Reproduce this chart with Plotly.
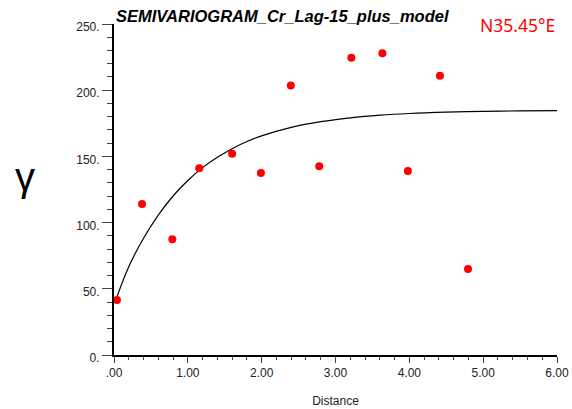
import plotly.graph_objects as go

# Experimental semivariogram points (lag distance, gamma)
lag_distance = [0.04, 0.38, 0.79, 1.155, 1.60, 1.99, 2.395, 2.78, 3.215, 3.635, 3.98, 4.415, 4.795]
gamma_values = [41.5, 114, 87.5, 141, 152, 137.5, 203.5, 142.5, 224.5, 228, 139, 211, 65]

# Fitted model curve
model_distance = [0.04, 0.2, 0.4, 0.6, 0.8, 1.0, 1.2, 1.4, 1.6, 1.8, 2.0, 2.4, 2.8, 3.2, 3.6, 4.0, 4.5, 5.0, 5.5, 6.0]
model_gamma = [44, 66.7, 88.2, 105.7, 120.1, 131.8, 141.5, 149.3, 155.8, 161.2, 165.5, 171.9, 176.2, 179.1,
               181.1, 182.4, 183.4, 184.0, 184.4, 184.6]

x_tickvals = [0, 1, 2, 3, 4, 5, 6]
x_ticktext = [".00", "1.00", "2.00", "3.00", "4.00", "5.00", "6.00"]
y_tickvals = [0, 50, 100, 150, 200, 250]
y_ticktext = ["0.", "50.", "100.", "150.", "200.", "250."]

title_text = "SEMIVARIOGRAM_Cr_Lag-15_plus_model"
direction_text = "N35.45°E"

fig = go.Figure()
fig.add_trace(go.Scatter(x=model_distance, y=model_gamma, mode="lines",
                         line=dict(color="black", width=1.2, shape="spline"),
                         showlegend=False, hoverinfo="skip"))
fig.add_trace(go.Scatter(x=lag_distance, y=gamma_values, mode="markers",
                         marker=dict(color="#ff0000", size=8),
                         showlegend=False))

tick_font = dict(family="Liberation Sans, Arial, sans-serif", size=12, color="#222222")

fig.update_layout(
    width=572, height=409,
    margin=dict(l=114, r=15, t=24, b=54),
    paper_bgcolor="white", plot_bgcolor="white",
    font=tick_font,
    xaxis=dict(range=[0, 6], tickvals=x_tickvals, ticktext=x_ticktext, automargin=False,
               showgrid=False, zeroline=False, showline=True, linecolor="black", linewidth=2,
               ticks="outside", ticklen=6, tickwidth=1, tickcolor="#444444",
               minor=dict(dtick=0.2, ticks="outside", ticklen=3, tickwidth=1, tickcolor="#444444", showgrid=False),
               title=dict(text="Distance", font=dict(size=12, color="#222222"), standoff=17),
               tickfont=tick_font),
    yaxis=dict(range=[0, 250], tickvals=y_tickvals, ticktext=y_ticktext, automargin=False,
               showgrid=False, zeroline=False, showline=True, linecolor="black", linewidth=2,
               ticks="outside", ticklen=10, tickwidth=1, tickcolor="#444444",
               minor=dict(dtick=10, ticks="outside", ticklen=5, tickwidth=1, tickcolor="#444444", showgrid=False),
               ticklabelshift=3,
               tickfont=tick_font),
    annotations=[
        dict(text="<b><i>" + title_text + "</i></b>", xref="paper", yref="paper", x=0.0, y=1.0,
             xanchor="left", yanchor="middle", yshift=8, showarrow=False,
             font=dict(family="Liberation Sans, Arial, sans-serif", size=16.5, color="black")),
        dict(text=direction_text, xref="paper", yref="paper", x=1.0, y=1.0, xanchor="right", yanchor="middle",
             yshift=-1, showarrow=False,
             font=dict(family="Noto Sans, sans-serif", size=17.5, color="#ff0000")),
        dict(text="γ", xref="paper", yref="paper", x=0.0, y=0.5, xanchor="center", yanchor="middle",
             xshift=-89, yshift=13, showarrow=False,
             font=dict(family="Liberation Sans, Arial, sans-serif", size=40, color="black")),
    ],
)

fig.write_html("out.html", config={"displayModeBar": False},
               post_script="document.body.style.margin='0px';")
